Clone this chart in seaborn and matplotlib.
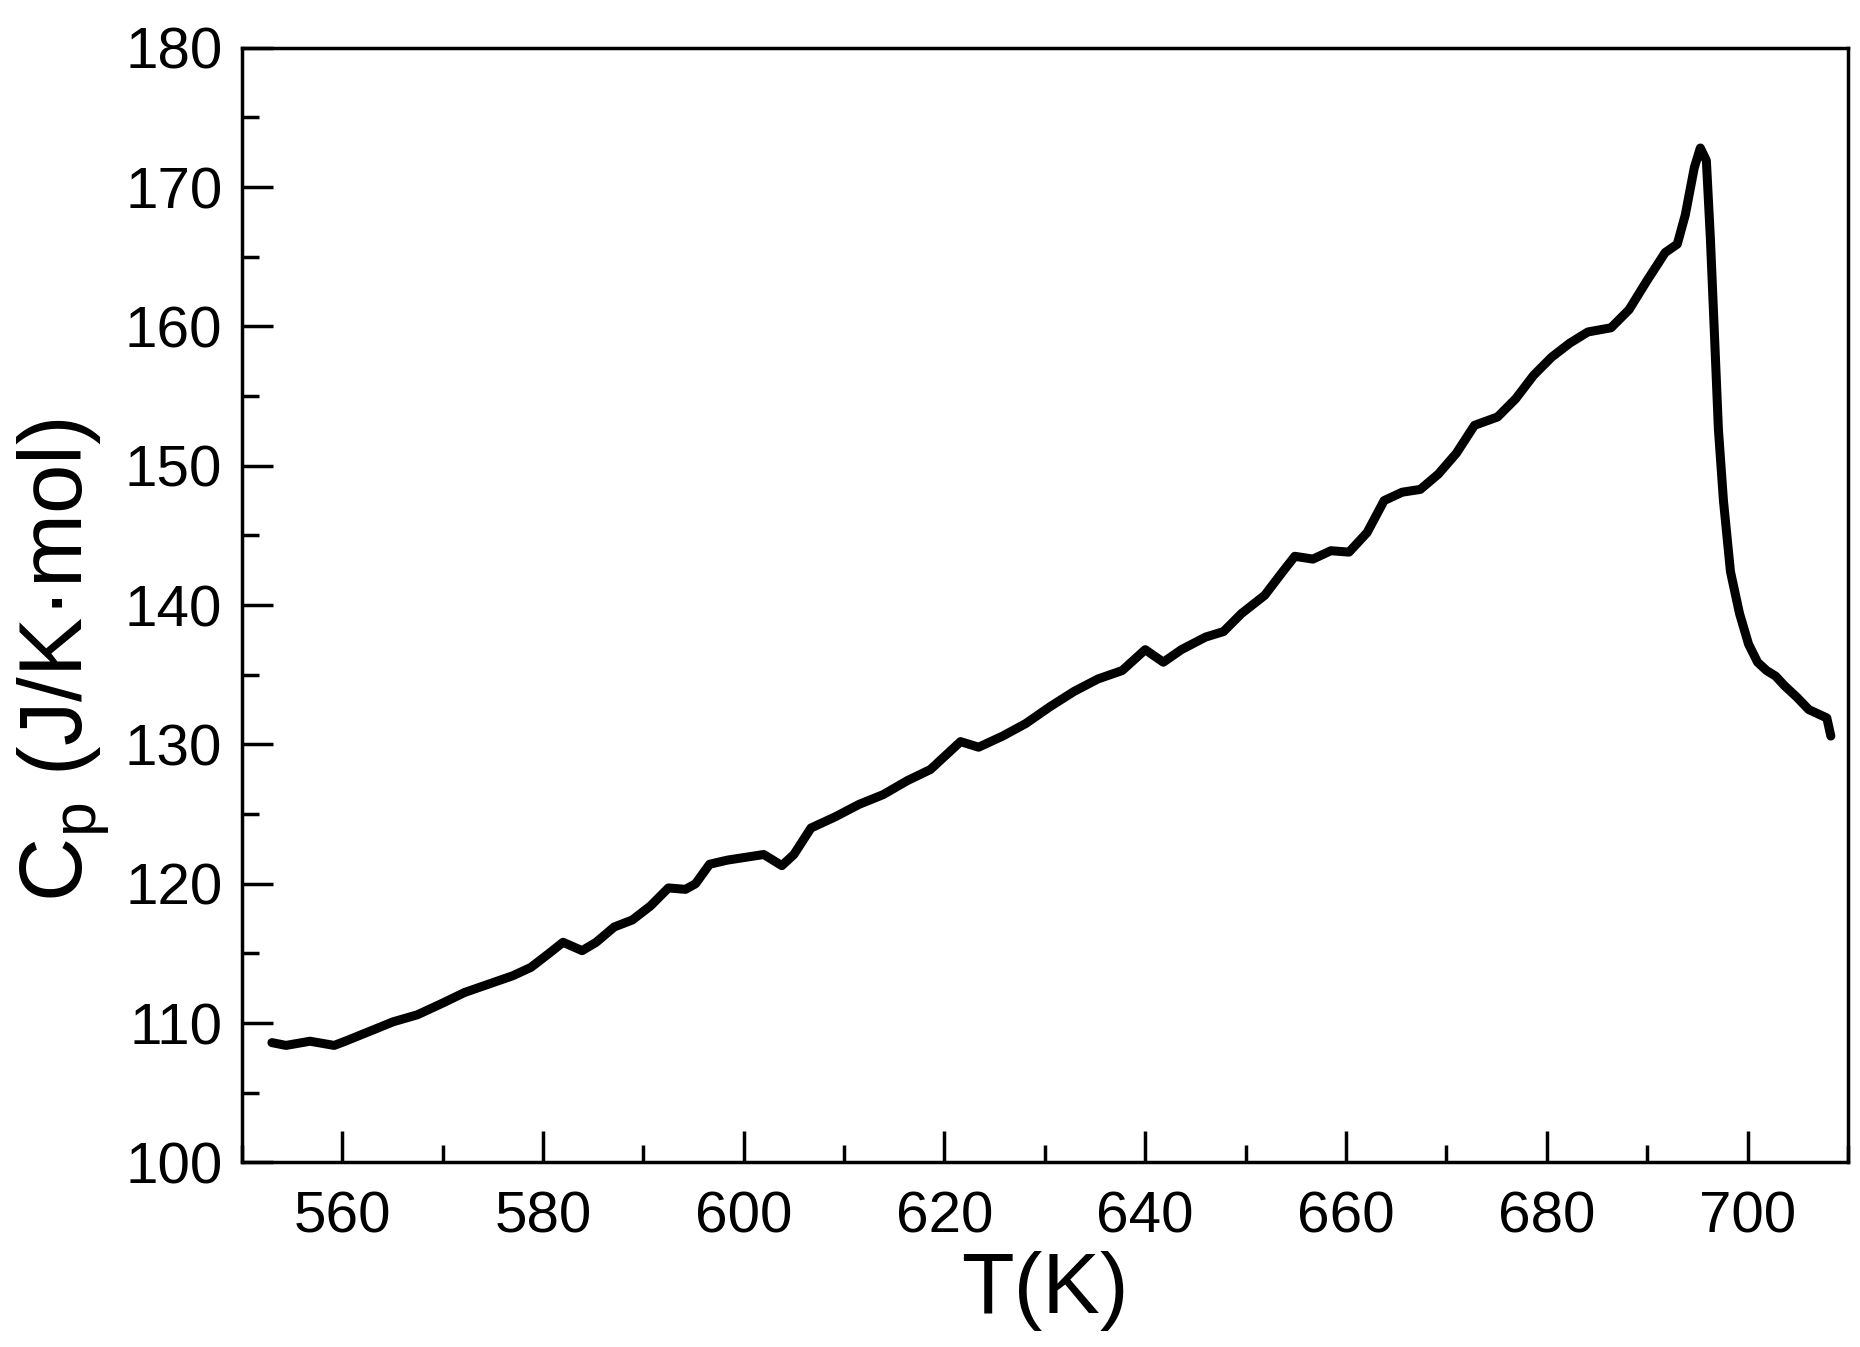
import matplotlib
matplotlib.use("Agg")
import matplotlib.pyplot as plt
import seaborn as sns
import pandas as pd
from matplotlib.ticker import MultipleLocator

temperature_K = [
    553.0, 554.4, 556.8, 559.2, 560.3, 562.7, 565.1, 567.5, 569.9, 572.2,
    574.6, 577.0, 578.8, 580.6, 582.0, 583.9, 585.3, 587.1, 588.9, 590.7,
    592.5, 594.2, 595.2, 596.6, 598.4, 600.2, 602.0, 603.8, 605.0, 606.7,
    609.1, 611.5, 613.9, 616.3, 618.6, 619.8, 621.6, 623.4, 625.8, 628.1,
    630.5, 632.9, 635.3, 637.7, 640.0, 641.8, 643.6, 646.0, 647.8, 649.6,
    651.9, 653.7, 654.9, 656.7, 658.5, 660.3, 662.1, 663.8, 665.6, 667.4,
    669.2, 671.0, 672.8, 675.1, 676.9, 678.7, 680.5, 682.3, 684.1, 686.4,
    688.2, 690.0, 691.8, 693.0, 693.8, 694.7, 695.3, 695.9, 696.3, 696.7,
    697.1, 697.6, 698.3, 699.2, 700.1, 701.0, 701.9, 702.8, 703.7, 704.9,
    706.1, 707.3, 707.9, 708.3,
]
cp_J_per_K_mol = [
    108.6, 108.4, 108.7, 108.4, 108.7, 109.4, 110.1, 110.6, 111.4, 112.2,
    112.8, 113.4, 114.0, 115.0, 115.8, 115.2, 115.8, 116.9, 117.4, 118.4,
    119.7, 119.6, 120.0, 121.4, 121.7, 121.9, 122.1, 121.3, 122.1, 124.0,
    124.8, 125.7, 126.4, 127.4, 128.2, 129.0, 130.2, 129.8, 130.6, 131.5,
    132.7, 133.8, 134.7, 135.3, 136.8, 135.9, 136.8, 137.7, 138.1, 139.4,
    140.7, 142.4, 143.5, 143.3, 143.9, 143.8, 145.2, 147.5, 148.1, 148.3,
    149.4, 150.9, 152.9, 153.5, 154.8, 156.5, 157.8, 158.8, 159.6, 159.9,
    161.2, 163.3, 165.3, 165.9, 168.0, 171.4, 172.8, 171.9, 166.3, 159.5,
    152.6, 147.5, 142.4, 139.4, 137.2, 135.9, 135.3, 134.9, 134.2, 133.4,
    132.5, 132.1, 131.9, 130.6,
]
x_ticks = [560, 580, 600, 620, 640, 660, 680, 700]
y_ticks = [100, 110, 120, 130, 140, 150, 160, 170, 180]

sns.set_theme(style="ticks")
plt.rcParams["font.family"] = ["Liberation Sans", "DejaVu Sans"]
plt.rcParams["mathtext.fontset"] = "custom"
plt.rcParams["mathtext.rm"] = "Liberation Sans"
for k in ["text.color", "axes.labelcolor", "xtick.color", "ytick.color",
          "axes.edgecolor"]:
    plt.rcParams[k] = "black"

df = pd.DataFrame({"T": temperature_K, "Cp": cp_J_per_K_mol})

fig = plt.figure(figsize=(18.6, 13.47), dpi=100)
ax = fig.add_axes([0.130, 0.137, 0.8635, 0.8276])
sns.lineplot(data=df, x="T", y="Cp", ax=ax, color="black", linewidth=6.5,
             sort=False, estimator=None)

ax.set_xlim(550, 710)
ax.set_ylim(100, 180)
ax.set_xticks(x_ticks)
ax.set_yticks(y_ticks)
ax.xaxis.set_minor_locator(MultipleLocator(10))
ax.yaxis.set_minor_locator(MultipleLocator(5))
ax.tick_params(which="major", direction="in", length=22, width=2.5,
               labelsize=42, colors="black")
ax.tick_params(axis="x", which="major", pad=20)
ax.tick_params(axis="y", which="major", pad=14)
ax.tick_params(which="minor", direction="in", length=12, width=2.5)
ax.tick_params(top=False, right=False, which="both")
for s in ax.spines.values():
    s.set_linewidth(2.5)
    s.set_color("black")

ax.set_xlabel("T(K)", fontsize=62, labelpad=5)
ax.set_ylabel(r"C$_\mathregular{p}$ (J/K·mol)", fontsize=64)
ax.yaxis.set_label_coords(-0.081, 0.451)

fig.savefig("out.png", dpi=100, facecolor="white")
